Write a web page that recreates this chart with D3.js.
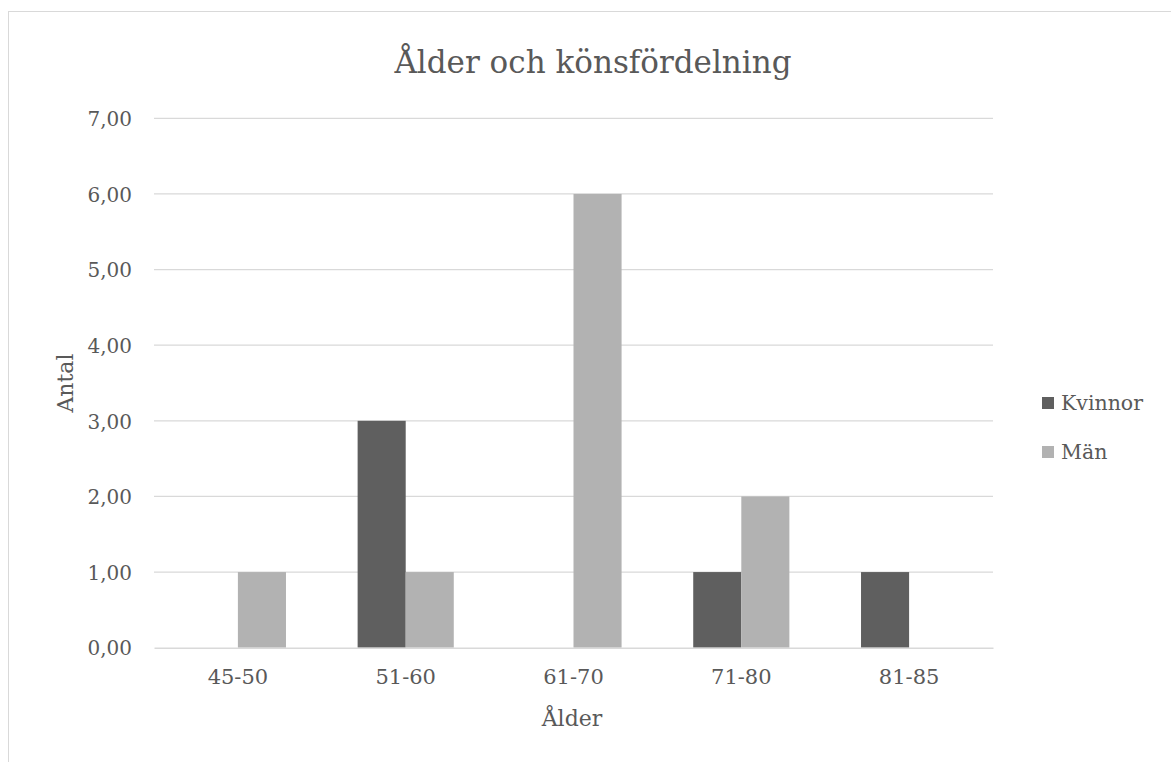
<!DOCTYPE html>
<html>
<head>
<meta charset="utf-8">
<script src="https://cdn.jsdelivr.net/npm/d3@7"></script>
<style>
  html, body { margin: 0; padding: 0; background: #fff; }
  svg { display: block; }
  text { font-family: "DejaVu Serif", "Liberation Serif", serif; fill: #595959; }
</style>
</head>
<body>
<svg id="chart" width="1171" height="762"></svg>
<script>
// Age groups and counts per sex
const categories = ["45-50", "51-60", "61-70", "71-80", "81-85"];
const seriesNames = ["Kvinnor", "Män"];
const kvinnor = [0, 3, 0, 1, 1];
const man = [1, 1, 6, 2, 0];
const yTicks = [0, 1, 2, 3, 4, 5, 6, 7];
const colors = ["#5f5f5f", "#b2b2b2"];

const svg = d3.select("#chart");
const W = 1171, H = 762;

// chart frame
svg.append("rect")
  .attr("x", 8.5).attr("y", 11.5)
  .attr("width", W + 20).attr("height", H + 20)
  .attr("fill", "none").attr("stroke", "#d9d9d9").attr("stroke-width", 1);

const plot = { left: 154, right: 993, top: 118.3, bottom: 647.7 };

const y = d3.scaleLinear().domain([0, 7]).range([plot.bottom, plot.top]);
const x = d3.scaleBand().domain(categories).range([plot.left, plot.right])
  .paddingInner(0.427).paddingOuter(0.2135);
const xs = d3.scaleBand().domain(seriesNames).range([0, x.bandwidth()]);

const fmt = v => d3.format(".2f")(v).replace(".", ",");

// gridlines
svg.append("g")
  .selectAll("line").data(yTicks.filter(d => d > 0)).join("line")
  .attr("x1", plot.left).attr("x2", plot.right)
  .attr("y1", d => y(d)).attr("y2", d => y(d))
  .attr("stroke", "#d9d9d9").attr("stroke-width", 1.3);

// y axis labels
const yAxis = d3.axisLeft(y).tickValues(yTicks).tickFormat(fmt).tickSize(0).tickPadding(22);
const gy = svg.append("g").attr("transform", `translate(${plot.left},0)`).call(yAxis);
gy.select(".domain").remove();
gy.selectAll("text").style("font-size", "20px").style("font-family", null).attr("fill", null).attr("dy", "0.36em");

// bars
const rows = categories.map((c, i) => ({ cat: c, values: [kvinnor[i], man[i]] }));
const groups = svg.append("g").selectAll("g").data(rows).join("g")
  .attr("transform", d => `translate(${x(d.cat)},0)`);
groups.selectAll("rect")
  .data(d => d.values.map((v, j) => ({ name: seriesNames[j], v, j })).filter(e => e.v > 0))
  .join("rect")
  .attr("x", d => xs(d.name))
  .attr("width", xs.bandwidth())
  .attr("y", d => y(d.v))
  .attr("height", d => y(0) - y(d.v))
  .attr("fill", d => colors[d.j]);

// x axis
const xAxis = d3.axisBottom(x).tickSize(0).tickPadding(21);
const gx = svg.append("g").attr("transform", `translate(0,${plot.bottom})`).call(xAxis);
gx.select(".domain").attr("stroke", "#d9d9d9").attr("stroke-width", 1.6);
gx.selectAll("text").style("font-size", "21px").style("font-family", null).attr("fill", null);

// titles
svg.append("text").attr("x", 593).attr("y", 73).attr("text-anchor", "middle")
  .style("font-size", "31px").text("Ålder och könsfördelning");
svg.append("text").attr("x", 572).attr("y", 726).attr("text-anchor", "middle")
  .style("font-size", "22px").text("Ålder");
svg.append("text").attr("transform", "translate(73,383) rotate(-90)").attr("text-anchor", "middle")
  .style("font-size", "22px").text("Antal");

// legend
const leg = svg.append("g").attr("transform", "translate(1042,397)");
const li = leg.selectAll("g").data(seriesNames).join("g")
  .attr("transform", (d, i) => `translate(0,${i * 49})`);
li.append("rect").attr("width", 12).attr("height", 12).attr("fill", (d, i) => colors[i]);
li.append("text").attr("x", 19).attr("y", 6).attr("dy", "0.36em")
  .style("font-size", "20.5px").text(d => d);
</script>
</body>
</html>
